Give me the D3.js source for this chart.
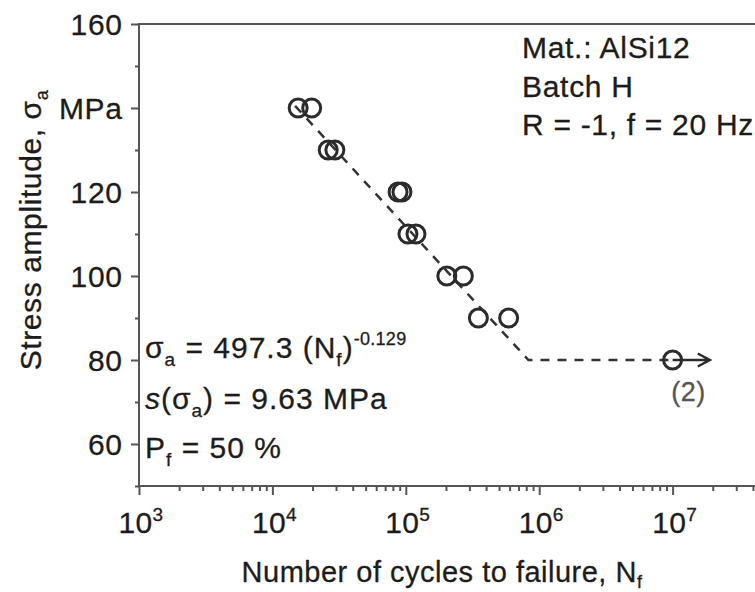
<!DOCTYPE html>
<html>
<head>
<meta charset="utf-8">
<script src="https://cdn.jsdelivr.net/npm/d3@7"></script>
<style>
  body { margin: 0; background: #fff; }
  svg { display: block; font-family: "Liberation Sans", Arial, sans-serif; }
  svg text { stroke: #1c1c1c; stroke-width: 0.3px; }
</style>
</head>
<body>
<svg id="chart"></svg>
<script>
var W = 755, H = 592;

// failures: stress amplitude (MPa) and cycles to failure
var stress = [140, 140, 130, 130, 120, 120, 110, 110, 100, 100, 90, 90];
var cycles = [15600, 19700, 26200, 29400, 87500, 93600, 103800, 119200, 203000, 270000, 350000, 590000];
// run-out
var runoutStress = [80];
var runoutCycles = [1.0e7];
var runoutArrowEnd = [1.9e7];
// dashed S-N curve (as drawn)
var curveCycles = [14800, 830000, 1.0e7];
var curveStress = [140.5, 80, 80];
// ticks
var yMajor = [60, 80, 100, 120, 140, 160];
var yMinor = [50, 70, 90, 110, 130, 150];
var yLabels = ["60", "80", "100", "120", "MPa", "160"];
var xDecades = [3, 4, 5, 6, 7, 8];

var padL = 139, padT = 24, padB = 486, padR = 139 + 5 * 133.4;

var x = d3.scaleLog().domain([1e3, 1e8]).range([padL, padR]);
var y = d3.scaleLinear().domain([50, 160]).range([padB, padT]);

var svg = d3.select("#chart").attr("width", W).attr("height", H);
svg.append("rect").attr("width", W).attr("height", H).attr("fill", "#fff");

var axisColor = "#555";
var textColor = "#1c1c1c";

// frame
svg.append("rect")
  .attr("x", padL).attr("y", padT)
  .attr("width", padR - padL).attr("height", padB - padT)
  .attr("fill", "none").attr("stroke", axisColor).attr("stroke-width", 2);

// x axis ticks
var xMinor = [];
xDecades.slice(0, -1).forEach(function (e) {
  for (var k = 2; k <= 9; k++) xMinor.push(k * Math.pow(10, e));
});
var xAxisMajor = d3.axisBottom(x).tickValues(xDecades.map(function (e) { return Math.pow(10, e); }))
  .tickSize(9).tickFormat("");
var xAxisMinor = d3.axisBottom(x).tickValues(xMinor).tickSize(5).tickFormat("");
[xAxisMajor, xAxisMinor].forEach(function (ax) {
  var g = svg.append("g").attr("transform", "translate(0," + padB + ")").call(ax);
  g.select(".domain").remove();
  g.selectAll("line").attr("stroke", axisColor).attr("stroke-width", 2);
});

// x tick labels 10^n
var xl = svg.append("g").selectAll("text").data(xDecades.slice(0, -1)).join("text")
  .attr("x", function (d) { return x(Math.pow(10, d)) + 2; })
  .attr("y", 533)
  .attr("text-anchor", "middle")
  .attr("font-size", 30)
  .attr("letter-spacing", 0.3)
  .attr("fill", textColor);
xl.append("tspan").text("10");
xl.append("tspan").attr("dy", -12).attr("font-size", 19).text(function (d) { return d; });

// y axis ticks
var yAxisMajor = d3.axisLeft(y).tickValues(yMajor).tickSize(8).tickFormat("");
var yAxisMinor = d3.axisLeft(y).tickValues(yMinor).tickSize(4).tickFormat("");
[yAxisMajor, yAxisMinor].forEach(function (ax) {
  var g = svg.append("g").attr("transform", "translate(" + padL + ",0)").call(ax);
  g.select(".domain").remove();
  g.selectAll("line").attr("stroke", axisColor).attr("stroke-width", 2);
});
svg.append("g").selectAll("text").data(yMajor).join("text")
  .attr("x", 122.7)
  .attr("y", function (d) { return y(d); })
  .attr("dy", "0.36em")
  .attr("text-anchor", "end")
  .attr("font-size", 30)
  .attr("letter-spacing", 0.7)
  .attr("fill", textColor)
  .text(function (d, i) { return yLabels[i]; });

// axis titles
var xt = svg.append("text")
  .attr("x", 442).attr("y", 582)
  .attr("text-anchor", "middle")
  .attr("font-size", 29)
  .attr("letter-spacing", 0.5)
  .attr("fill", textColor);
xt.append("tspan").text("Number of cycles to failure, N");
xt.append("tspan").attr("font-size", 18).attr("dy", 6).text("f");

var yt = svg.append("text")
  .attr("transform", "translate(41,230) rotate(-90)")
  .attr("text-anchor", "middle")
  .attr("font-size", 30)
  .attr("letter-spacing", 0.6)
  .attr("fill", textColor);
yt.append("tspan").text("Stress amplitude, σ");
yt.append("tspan").attr("font-size", 18).attr("dy", 7).text("a");

// dashed curve
var line = d3.line()
  .x(function (d) { return x(d[0]); })
  .y(function (d) { return y(d[1]); });
svg.append("path")
  .datum(d3.zip(curveCycles, curveStress))
  .attr("d", line)
  .attr("fill", "none")
  .attr("stroke", "#333")
  .attr("stroke-width", 2.5)
  .attr("stroke-dasharray", "9,8");

// failure points
svg.append("g").selectAll("circle").data(d3.zip(cycles, stress)).join("circle")
  .attr("cx", function (d) { return x(d[0]); })
  .attr("cy", function (d) { return y(d[1]); })
  .attr("r", 9)
  .attr("fill", "none")
  .attr("stroke", "#2b2b2b")
  .attr("stroke-width", 3);

// run-out with arrow
var ro = d3.zip(runoutCycles, runoutStress, runoutArrowEnd);
var rg = svg.append("g");
rg.selectAll("circle").data(ro).join("circle")
  .attr("cx", function (d) { return x(d[0]); })
  .attr("cy", function (d) { return y(d[1]); })
  .attr("r", 9)
  .attr("fill", "none")
  .attr("stroke", "#2b2b2b")
  .attr("stroke-width", 3);
rg.selectAll("path.arrow").data(ro).join("path")
  .attr("class", "arrow")
  .attr("d", function (d) {
    var x0 = x(d[0]), x1 = x(d[2]), yy = y(d[1]);
    return "M" + x0 + "," + yy + "H" + x1 +
      "M" + (x1 - 12) + "," + (yy - 6.5) + "L" + x1 + "," + yy + "L" + (x1 - 12) + "," + (yy + 6.5);
  })
  .attr("fill", "none")
  .attr("stroke", "#2b2b2b")
  .attr("stroke-width", 2.5);
rg.selectAll("text").data(ro).join("text")
  .attr("x", function (d) { return x(d[0]) + 16; })
  .attr("y", function (d) { return y(d[1]) + 41; })
  .attr("text-anchor", "middle")
  .attr("font-size", 27)
  .attr("letter-spacing", 0.5)
  .attr("fill", "#555")
  .style("stroke", "#555")
  .text("(2)");

// material info
var info = ["Mat.: AlSi12", "Batch H", "R = -1, f = 20 Hz"];
svg.append("g").selectAll("text").data(info).join("text")
  .attr("x", 522)
  .attr("y", function (d, i) { return 58 + i * 38.5; })
  .attr("font-size", 30)
  .attr("letter-spacing", 0.7)
  .attr("fill", textColor)
  .text(function (d) { return d; });

// equation block
var eq = svg.append("g").attr("font-size", 30).attr("letter-spacing", 1).attr("fill", textColor);
var t1 = eq.append("text").attr("x", 145).attr("y", 358);
t1.append("tspan").text("σ");
t1.append("tspan").attr("font-size", 19).attr("dy", 8).text("a");
t1.append("tspan").attr("dy", -8).text(" = 497.3 (N");
t1.append("tspan").attr("font-size", 19).attr("dy", 8).text("f");
t1.append("tspan").attr("dy", -8).text(")");
t1.append("tspan").attr("font-size", 18).attr("dy", -13).attr("letter-spacing", 0.3).text("-0.129");

var t2 = eq.append("text").attr("x", 145).attr("y", 409);
t2.append("tspan").attr("font-style", "italic").text("s");
t2.append("tspan").text("(σ");
t2.append("tspan").attr("font-size", 19).attr("dy", 8).text("a");
t2.append("tspan").attr("dy", -8).text(") = 9.63 MPa");

var t3 = eq.append("text").attr("x", 145).attr("y", 458);
t3.append("tspan").text("P");
t3.append("tspan").attr("font-size", 19).attr("dy", 8).text("f");
t3.append("tspan").attr("dy", -8).text(" = 50 %");
</script>
</body>
</html>
